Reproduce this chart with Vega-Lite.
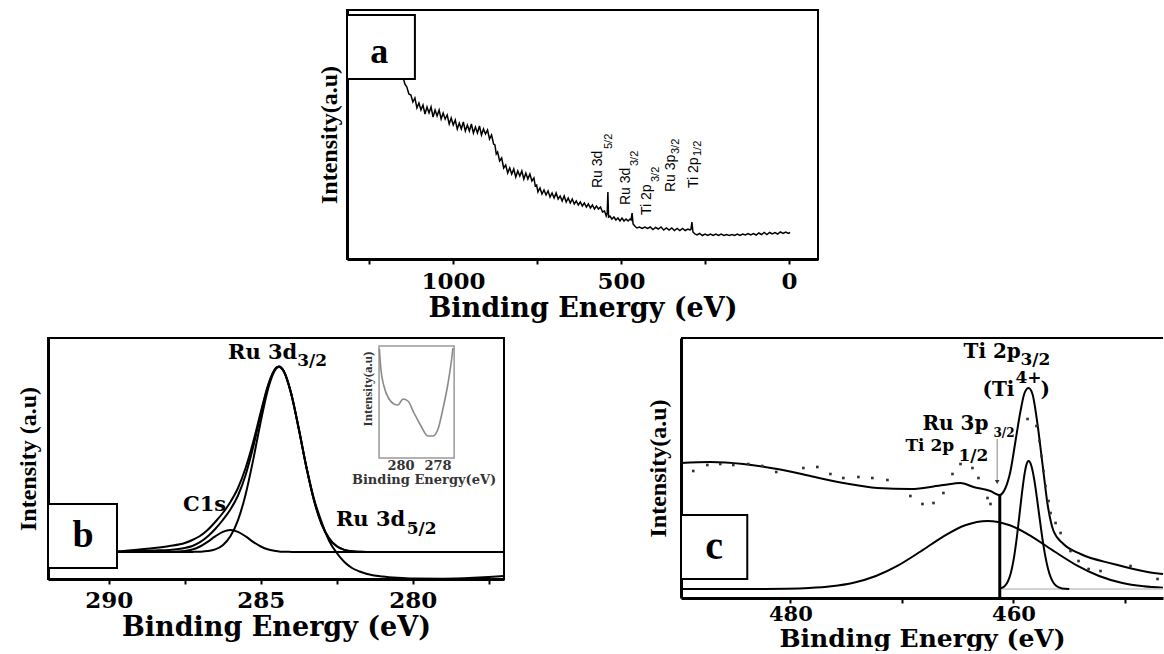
{
"$schema": "https://vega.github.io/schema/vega-lite/v6.json",
"background": "white",
"padding": {"left": 15, "top": 9, "right": 0, "bottom": 0},
"spacing": 15,
"config": {
  "view": {"stroke": "black", "strokeWidth": 2},
  "axis": {"grid": false, "domainColor": "black", "domainWidth": 3, "tickColor": "black", "tickWidth": 2, "tickSize": 5, "format": "d",
           "labelFont": "DejaVu Serif", "labelFontWeight": "bold", "labelColor": "black", "labelFlush": false, "labelOverlap": false,
           "titleFont": "DejaVu Serif", "titleFontWeight": "bold", "titleColor": "black"},
  "axisY": {"ticks": false, "labels": false, "titleFont": "Liberation Serif", "titleFontSize": 24}
},
"vconcat": [
 {"spacing": 0, "hconcat": [
  {"width": 268, "height": 249, "view": {"stroke": null}, "data": {"values": []}, "mark": {"type": "point", "opacity": 0}},
  {"width": 471, "height": 249,
   "layer": [
    {"data": {"values": [
{"e":1149,"v":183},{"e":1143,"v":175},{"e":1137,"v":172},{"e":1131,"v":165},{"e":1125,"v":164},{"e":1119,"v":157},{"e":1113,"v":161},{"e":1107,"v":151},{"e":1101,"v":156},{"e":1095,"v":149},{"e":1089,"v":154},{"e":1083,"v":145},{"e":1077,"v":152},{"e":1071,"v":146},{"e":1065,"v":152},{"e":1059,"v":142},{"e":1053,"v":149},{"e":1047,"v":143},{"e":1041,"v":149},{"e":1035,"v":140},{"e":1029,"v":146},{"e":1023,"v":140},{"e":1017,"v":144},{"e":1011,"v":135},{"e":1005,"v":141},{"e":999,"v":134},{"e":993,"v":139},{"e":987,"v":130},{"e":981,"v":136},{"e":975,"v":130},{"e":969,"v":137},{"e":963,"v":128},{"e":957,"v":134},{"e":951,"v":128},{"e":945,"v":135},{"e":939,"v":126},{"e":933,"v":132},{"e":927,"v":126},{"e":921,"v":133},{"e":915,"v":124},{"e":909,"v":130},{"e":903,"v":125},{"e":897,"v":129},{"e":891,"v":120},{"e":885,"v":124},{"e":879,"v":115},{"e":875,"v":114},{"e":871,"v":105},{"e":867,"v":107},{"e":861,"v":98},{"e":855,"v":101},{"e":849,"v":91},{"e":843,"v":94},{"e":837,"v":86},{"e":831,"v":91},{"e":825,"v":85},{"e":819,"v":90},{"e":813,"v":82},{"e":807,"v":88},{"e":801,"v":83},{"e":795,"v":88},{"e":789,"v":80},{"e":783,"v":86},{"e":777,"v":80},{"e":771,"v":85},{"e":765,"v":78},{"e":759,"v":81},{"e":755,"v":73},{"e":751,"v":74},{"e":747,"v":67},{"e":741,"v":71},{"e":735,"v":65},{"e":729,"v":69},{"e":723,"v":64},{"e":717,"v":68},{"e":711,"v":62},{"e":705,"v":66},{"e":699,"v":61},{"e":693,"v":66},{"e":687,"v":60},{"e":681,"v":63},{"e":675,"v":58},{"e":669,"v":63},{"e":663,"v":57},{"e":657,"v":61},{"e":651,"v":56},{"e":645,"v":60},{"e":639,"v":55},{"e":633,"v":58},{"e":627,"v":54},{"e":621,"v":57},{"e":615,"v":53},{"e":609,"v":56},{"e":603,"v":52},{"e":597,"v":55},{"e":591,"v":51},{"e":585,"v":54},{"e":579,"v":50},{"e":573,"v":53},{"e":567,"v":50},{"e":561,"v":52},{"e":555,"v":47},{"e":549,"v":48},{"e":544,"v":43},{"e":541,"v":46},{"e":539,"v":67},{"e":537,"v":42},{"e":533,"v":43},{"e":527,"v":40},{"e":521,"v":42},{"e":515,"v":39},{"e":509,"v":41},{"e":503,"v":38},{"e":497,"v":41},{"e":491,"v":38},{"e":485,"v":40},{"e":479,"v":38},{"e":473,"v":40},{"e":470,"v":39},{"e":467,"v":46},{"e":464,"v":35},{"e":459,"v":33},{"e":453,"v":31},{"e":445,"v":32},{"e":437,"v":30.5},{"e":429,"v":32},{"e":421,"v":30.5},{"e":413,"v":32},{"e":405,"v":29.5},{"e":397,"v":31.5},{"e":389,"v":30},{"e":381,"v":32},{"e":373,"v":29},{"e":365,"v":31},{"e":357,"v":29},{"e":349,"v":31},{"e":341,"v":28.5},{"e":333,"v":30.5},{"e":325,"v":28.5},{"e":317,"v":30.5},{"e":309,"v":28.5},{"e":301,"v":30},{"e":295,"v":29},{"e":292,"v":29.5},{"e":289,"v":37},{"e":286,"v":27},{"e":280,"v":25},{"e":274,"v":24},{"e":266,"v":25.5},{"e":258,"v":23.5},{"e":250,"v":25},{"e":242,"v":23.5},{"e":234,"v":25},{"e":226,"v":23.5},{"e":218,"v":25},{"e":210,"v":23.5},{"e":202,"v":25},{"e":194,"v":23.5},{"e":186,"v":24.5},{"e":178,"v":23.5},{"e":170,"v":24.5},{"e":162,"v":23.5},{"e":154,"v":25},{"e":146,"v":23.5},{"e":138,"v":25},{"e":130,"v":24},{"e":122,"v":25.5},{"e":114,"v":24},{"e":106,"v":25.5},{"e":98,"v":24},{"e":90,"v":26},{"e":82,"v":24.5},{"e":74,"v":26.5},{"e":66,"v":24.5},{"e":58,"v":26.5},{"e":50,"v":25},{"e":42,"v":26.5},{"e":34,"v":25},{"e":26,"v":27},{"e":18,"v":25.5},{"e":10,"v":27},{"e":2,"v":25.5},{"e":-3,"v":26.5}
    ]},
     "mark": {"type": "line", "color": "black", "strokeWidth": 1.5},
     "encoding": {
      "x": {"field": "e", "type": "quantitative", "scale": {"domain": [-86, 1315], "reverse": true, "nice": false, "zero": false},
            "axis": {"values": [1250, 1000, 750, 500, 250, 0], "labelExpr": "datum.value % 500 === 0 ? datum.label : ''", "title": "Binding Energy (eV)", "labelFontSize": 23, "titleFontSize": 27, "labelPadding": 6, "titlePadding": 2}},
      "y": {"field": "v", "type": "quantitative", "scale": {"domain": [0, 249], "nice": false}, "axis": {"title": "Intensity(a.u)", "titlePadding": 6}}
     }},
    {"data": {"values": [{}]}, "mark": {"type": "rect", "fill": "white", "stroke": "black", "strokeWidth": 2},
     "encoding": {"x": {"datum": 1315}, "x2": {"datum": 1113}, "y": {"datum": 180}, "y2": {"datum": 244}}},
    {"data": {"values": [{"e": 1219, "v": 207, "t": "a"}]},
     "mark": {"type": "text", "font": "Liberation Serif", "fontWeight": "bold", "fontSize": 36, "align": "center", "baseline": "middle", "color": "black"},
     "encoding": {"x": {"field": "e", "type": "quantitative"}, "y": {"field": "v", "type": "quantitative"}, "text": {"field": "t"}}},
    {"data": {"values": [{"e":568,"v":71,"t":"Ru 3d"},{"e":485,"v":54,"t":"Ru 3d"},{"e":423,"v":44,"t":"Ti 2p"},{"e":351,"v":67,"t":"Ru 3p"},{"e":283,"v":71,"t":"Ti 2p"}]},
     "mark": {"type": "text", "font": "Liberation Sans", "fontSize": 14, "angle": 270, "align": "left", "baseline": "middle", "color": "black"},
     "encoding": {"x": {"field": "e", "type": "quantitative"}, "y": {"field": "v", "type": "quantitative"}, "text": {"field": "t"}}},
    {"data": {"values": [{"e":536,"v":110,"t":"5/2"},{"e":458,"v":93,"t":"3/2"},{"e":396,"v":77,"t":"3/2"},{"e":336,"v":105,"t":"3/2"},{"e":271,"v":103,"t":"1/2"}]},
     "mark": {"type": "text", "font": "Liberation Sans", "fontSize": 11, "angle": 270, "align": "left", "baseline": "middle", "color": "black"},
     "encoding": {"x": {"field": "e", "type": "quantitative"}, "y": {"field": "v", "type": "quantitative"}, "text": {"field": "t"}}}
   ]}
 ]},
 {"spacing": 137, "hconcat": [
  {"width": 456, "height": 241,
   "layer": [
    {"data": {"values": [
{"x":292,"A":27,"B":27,"C":27,"D":27},{"x":291,"A":27,"B":27.2,"C":27,"D":27},{"x":290,"A":27.2,"B":27.5,"C":27,"D":27},{"x":289.5,"A":27.5,"B":28,"C":27,"D":27},{"x":289,"A":28,"B":29.5,"C":27,"D":27},{"x":288.5,"A":28.5,"B":31,"C":27,"D":27},{"x":288,"A":29.1,"B":33,"C":27,"D":27.1},{"x":287.5,"A":31,"B":36,"C":27,"D":28},{"x":287.25,"A":33,"B":39,"C":27.1,"D":29.5},{"x":287,"A":36.8,"B":43,"C":27.3,"D":32.5},{"x":286.75,"A":42.5,"B":49,"C":27.9,"D":37.1},{"x":286.5,"A":50,"B":57,"C":29.6,"D":42.6},{"x":286.25,"A":59,"B":66,"C":33.8,"D":47.2},{"x":286,"A":69.5,"B":77,"C":42.7,"D":49},{"x":285.75,"A":83.5,"B":91,"C":58.9,"D":47.2},{"x":285.5,"A":104,"B":111,"C":84.6,"D":42.6},{"x":285.25,"A":132,"B":137,"C":119.1,"D":37.1},{"x":285,"A":165,"B":167,"C":157.8,"D":32.5},{"x":284.75,"A":194,"B":195,"C":191.4,"D":29.5},{"x":284.5,"A":211.2,"B":211,"C":210.2,"D":28},{"x":284.4,"A":212.6,"B":212.6,"C":212,"D":27.6},{"x":284.25,"A":208.3,"B":208,"C":208,"D":27.3},{"x":284,"A":185.5,"B":185,"C":185.5,"D":27.1},{"x":283.75,"A":150.1,"B":150,"C":150.1,"D":27},{"x":283.5,"A":111.7,"B":112,"C":111.7,"D":27},{"x":283.25,"A":78.7,"B":80,"C":78.7,"D":27},{"x":283,"A":54.9,"B":57,"C":54.9,"D":27},{"x":282.75,"A":40.4,"B":38,"C":40.4,"D":27},{"x":282.5,"A":32.7,"B":26,"C":32.7,"D":27},{"x":282.25,"A":29.1,"B":17,"C":29.1,"D":27},{"x":282,"A":27.7,"B":11,"C":27.7,"D":27},{"x":281.75,"A":27.3,"B":7.5,"C":27.3,"D":27},{"x":281.5,"A":27.1,"B":5,"C":27.1,"D":27},{"x":281,"A":27,"B":2.5,"C":27,"D":27},{"x":280.5,"A":27,"B":1.2,"C":27,"D":27},{"x":280,"A":27,"B":0.5,"C":27,"D":27},{"x":279,"A":27,"B":0.3,"C":27,"D":27},{"x":278,"A":27,"B":1.2,"C":27,"D":27},{"x":277.5,"A":27,"B":2,"C":27,"D":27},{"x":277,"A":27,"B":3,"C":27,"D":27}
    ]},
     "transform": [{"fold": ["A", "B", "C", "D"], "as": ["s", "v"]}],
     "mark": {"type": "line", "color": "black", "strokeWidth": 2, "interpolate": "monotone"},
     "encoding": {
      "x": {"field": "x", "type": "quantitative", "scale": {"domain": [277, 292], "reverse": true, "nice": false, "zero": false},
            "axis": {"values": [290, 287.5, 285, 282.5, 280, 277.5], "labelExpr": "datum.value % 5 === 0 ? datum.label : ''", "title": "Binding Energy (eV)", "labelFontSize": 23, "titleFontSize": 27, "labelPadding": 5, "titlePadding": 2}},
      "y": {"field": "v", "type": "quantitative", "scale": {"domain": [0, 241], "nice": false}, "axis": {"title": "Intensity (a.u)", "titlePadding": 8}},
      "detail": {"field": "s"}
     }},
    {"data": {"values": [{}]}, "mark": {"type": "rect", "fill": "white", "stroke": "#999", "strokeWidth": 1.5},
     "encoding": {"x": {"datum": 281.11}, "x2": {"datum": 278.64}, "y": {"datum": 121}, "y2": {"datum": 233}}},
    {"data": {"values": [
{"x":281.1,"v":230},{"x":281.05,"v":210},{"x":280.95,"v":193},{"x":280.78,"v":180},{"x":280.62,"v":175},{"x":280.49,"v":174},{"x":280.32,"v":180},{"x":280.16,"v":178},{"x":279.96,"v":166},{"x":279.73,"v":153},{"x":279.5,"v":143},{"x":279.34,"v":143},{"x":279.17,"v":150},{"x":279.01,"v":170},{"x":278.84,"v":196},{"x":278.71,"v":223},{"x":278.68,"v":231}
    ]},
     "mark": {"type": "line", "color": "#8a8a8a", "strokeWidth": 1.6, "interpolate": "monotone"},
     "encoding": {"x": {"field": "x", "type": "quantitative"}, "y": {"field": "v", "type": "quantitative"}}},
    {"data": {"values": [{"x": 280.39, "v": 109, "t": "280"}, {"x": 279.17, "v": 109, "t": "278"}]},
     "mark": {"type": "text", "font": "DejaVu Serif", "fontWeight": "bold", "fontSize": 13, "align": "center", "baseline": "alphabetic", "color": "#333"},
     "encoding": {"x": {"field": "x", "type": "quantitative"}, "y": {"field": "v", "type": "quantitative"}, "text": {"field": "t"}}},
    {"data": {"values": [{"x": 279.63, "v": 95, "t": "Binding Energy(eV)"}]},
     "mark": {"type": "text", "font": "DejaVu Serif", "fontWeight": "bold", "fontSize": 13, "align": "center", "baseline": "alphabetic", "color": "#333"},
     "encoding": {"x": {"field": "x", "type": "quantitative"}, "y": {"field": "v", "type": "quantitative"}, "text": {"field": "t"}}},
    {"data": {"values": [{"x": 281.47, "v": 190, "t": "Intensity(a.u)"}]},
     "mark": {"type": "text", "font": "Liberation Serif", "fontWeight": "bold", "fontSize": 13, "angle": 270, "align": "center", "baseline": "middle", "color": "#333"},
     "encoding": {"x": {"field": "x", "type": "quantitative"}, "y": {"field": "v", "type": "quantitative"}, "text": {"field": "t"}}},
    {"data": {"values": [{}]}, "mark": {"type": "rect", "fill": "white", "stroke": "black", "strokeWidth": 2},
     "encoding": {"x": {"datum": 292}, "x2": {"datum": 289.73}, "y": {"datum": 11}, "y2": {"datum": 75}}},
    {"data": {"values": [{"x": 290.85, "v": 43, "t": "b"}]},
     "mark": {"type": "text", "font": "Liberation Serif", "fontWeight": "bold", "fontSize": 38, "align": "center", "baseline": "middle", "color": "black"},
     "encoding": {"x": {"field": "x", "type": "quantitative"}, "y": {"field": "v", "type": "quantitative"}, "text": {"field": "t"}}},
    {"data": {"values": [{"x": 286.08, "v": 220, "t": "Ru 3d"}, {"x": 287.56, "v": 68, "t": "C1s"}, {"x": 282.53, "v": 53, "t": "Ru 3d"}]},
     "mark": {"type": "text", "font": "DejaVu Serif", "fontWeight": "bold", "fontSize": 21, "align": "left", "baseline": "alphabetic", "color": "black"},
     "encoding": {"x": {"field": "x", "type": "quantitative"}, "y": {"field": "v", "type": "quantitative"}, "text": {"field": "t"}}},
    {"data": {"values": [{"x": 283.8, "v": 213, "t": "3/2"}, {"x": 280.2, "v": 45, "t": "5/2"}]},
     "mark": {"type": "text", "font": "DejaVu Serif", "fontWeight": "bold", "fontSize": 17, "align": "left", "baseline": "alphabetic", "color": "black"},
     "encoding": {"x": {"field": "x", "type": "quantitative"}, "y": {"field": "v", "type": "quantitative"}, "text": {"field": "t"}}}
   ]},
  {"width": 482, "height": 260, "view": {"stroke": null},
   "layer": [
    {"data": {"values": [
{"x":489.8,"v":9},{"x":482.33,"v":9.1},{"x":480.33,"v":9.3},{"x":478.33,"v":10},{"x":476.33,"v":11.7},{"x":474.33,"v":15.3},{"x":472.33,"v":22},{"x":470.33,"v":32.6},{"x":468.33,"v":46.5},{"x":466.33,"v":61.2},{"x":464.33,"v":72.7},{"x":462.33,"v":77},{"x":460.33,"v":72.7},{"x":458.33,"v":61.2},{"x":456.33,"v":46.5},{"x":454.33,"v":32.6},{"x":452.33,"v":22},{"x":450.33,"v":15.3},{"x":448.33,"v":11.7},{"x":446.6,"v":10.2}
    ]},
     "mark": {"type": "line", "color": "black", "strokeWidth": 2, "interpolate": "monotone"},
     "encoding": {
      "x": {"field": "x", "type": "quantitative", "scale": {"domain": [446.6, 489.8], "reverse": true, "nice": false, "zero": false},
            "axis": {"values": [480, 470, 460, 450], "labelExpr": "datum.value % 20 === 0 ? datum.label : ''", "title": "Binding Energy (eV)", "labelFontSize": 21, "titleFontSize": 25, "labelPadding": 0, "titlePadding": 2}},
      "y": {"field": "v", "type": "quantitative", "scale": {"domain": [0, 260], "nice": false}, "axis": {"title": "Intensity(a.u)", "titlePadding": 11}}
     }},
    {"data": {"values": [{}]}, "mark": {"type": "rule", "color": "black", "strokeWidth": 2},
     "encoding": {"x": {"datum": 489.8}, "x2": {"datum": 446.6}, "y": {"datum": 260}}},
    {"data": {"values": [{}]}, "mark": {"type": "rule", "color": "#c4c4c4", "strokeWidth": 1.5},
     "encoding": {"x": {"datum": 461.23}, "x2": {"datum": 446.6}, "y": {"datum": 9}}},
    {"data": {"values": [
{"x":461.26,"v":9.5},{"x":461,"v":10.4},{"x":460.75,"v":12.4},{"x":460.5,"v":16.7},{"x":460.25,"v":24.6},{"x":460,"v":37.6},{"x":459.75,"v":56.4},{"x":459.5,"v":79.7},{"x":459.25,"v":104.2},{"x":459,"v":124.7},{"x":458.85,"v":132.9},{"x":458.65,"v":137},{"x":458.4,"v":132.3},{"x":458.15,"v":119.1},{"x":457.9,"v":100.1},{"x":457.65,"v":79},{"x":457.4,"v":58.8},{"x":457.15,"v":41.9},{"x":456.9,"v":29.1},{"x":456.65,"v":20.4},{"x":456.4,"v":15},{"x":456.15,"v":11.9},{"x":455.65,"v":9.6},{"x":455,"v":9}
    ]},
     "mark": {"type": "line", "color": "black", "strokeWidth": 2, "interpolate": "monotone"},
     "encoding": {"x": {"field": "x", "type": "quantitative"}, "y": {"field": "v", "type": "quantitative"}}},
    {"data": {"values": [
{"x":489.8,"v":135},{"x":487.17,"v":136},{"x":484.22,"v":134},{"x":481.17,"v":129},{"x":478.21,"v":122},{"x":475.25,"v":115},{"x":472.2,"v":110},{"x":469.24,"v":109},{"x":466.28,"v":113},{"x":464.75,"v":115},{"x":463.59,"v":111},{"x":462.07,"v":107},{"x":461.26,"v":103},{"x":460.72,"v":110},{"x":460.27,"v":127},{"x":459.82,"v":157},{"x":459.37,"v":187},{"x":459.01,"v":205},{"x":458.65,"v":210},{"x":458.3,"v":204},{"x":457.85,"v":174},{"x":457.4,"v":134},{"x":456.95,"v":94},{"x":456.41,"v":67},{"x":455.52,"v":54},{"x":453.99,"v":44},{"x":451.03,"v":34},{"x":447.98,"v":26},{"x":446.6,"v":24}
    ]},
     "mark": {"type": "line", "color": "black", "strokeWidth": 2, "interpolate": "monotone"},
     "encoding": {"x": {"field": "x", "type": "quantitative"}, "y": {"field": "v", "type": "quantitative"}}},
    {"data": {"values": [
{"x":488.7,"v":127},{"x":487.44,"v":133},{"x":486.28,"v":134},{"x":485.11,"v":133},{"x":483.77,"v":134},{"x":482.51,"v":132},{"x":481.26,"v":126},{"x":478.83,"v":130},{"x":477.58,"v":131},{"x":476.41,"v":124},{"x":475.25,"v":120},{"x":473.9,"v":121},{"x":472.65,"v":120},{"x":471.3,"v":118},{"x":469.24,"v":102},{"x":468.16,"v":94},{"x":467.17,"v":95},{"x":466.28,"v":105},{"x":465.47,"v":124},{"x":464.75,"v":134},{"x":463.68,"v":130},{"x":463.14,"v":120},{"x":462.33,"v":100},{"x":462.06,"v":94},{"x":458.74,"v":179},{"x":457.94,"v":172},{"x":457.67,"v":157},{"x":457.49,"v":142},{"x":457.31,"v":127},{"x":457.13,"v":112},{"x":456.86,"v":97},{"x":456.68,"v":85},{"x":456.23,"v":75},{"x":455.78,"v":65},{"x":454.89,"v":47},{"x":454.17,"v":37},{"x":453.27,"v":29},{"x":452.2,"v":27},{"x":449.51,"v":32},{"x":447.09,"v":19}
    ]},
     "mark": {"type": "square", "size": 7, "color": "#333", "opacity": 1},
     "encoding": {"x": {"field": "x", "type": "quantitative"}, "y": {"field": "v", "type": "quantitative"}}},
    {"data": {"values": [{}]}, "mark": {"type": "rule", "color": "black", "strokeWidth": 3},
     "encoding": {"x": {"datum": 461.23}, "y": {"datum": 0}, "y2": {"datum": 104}}},
    {"data": {"values": [{}]}, "mark": {"type": "rule", "color": "#9a9a9a", "strokeWidth": 1.2},
     "encoding": {"x": {"datum": 461.46}, "y": {"datum": 159}, "y2": {"datum": 118}}},
    {"data": {"values": [{}]}, "mark": {"type": "point", "shape": "triangle-down", "size": 22, "filled": true, "color": "#333", "opacity": 1},
     "encoding": {"x": {"datum": 461.46}, "y": {"datum": 116}}},
    {"data": {"values": [{}]}, "mark": {"type": "rect", "fill": "white", "stroke": "black", "strokeWidth": 2},
     "encoding": {"x": {"datum": 489.8}, "x2": {"datum": 483.86}, "y": {"datum": 19}, "y2": {"datum": 83}}},
    {"data": {"values": [{"x": 486.83, "v": 51, "t": "c"}]},
     "mark": {"type": "text", "font": "Liberation Serif", "fontWeight": "bold", "fontSize": 40, "align": "center", "baseline": "middle", "color": "black"},
     "encoding": {"x": {"field": "x", "type": "quantitative"}, "y": {"field": "v", "type": "quantitative"}, "text": {"field": "t"}}},
    {"data": {"values": [{"x": 464.48, "v": 240, "t": "Ti 2p"}, {"x": 462.78, "v": 202, "t": "(Ti"}, {"x": 457.58, "v": 202, "t": ")"}, {"x": 468.16, "v": 168, "t": "Ru 3p"}]},
     "mark": {"type": "text", "font": "DejaVu Serif", "fontWeight": "bold", "fontSize": 20, "align": "left", "baseline": "alphabetic", "color": "black"},
     "encoding": {"x": {"field": "x", "type": "quantitative"}, "y": {"field": "v", "type": "quantitative"}, "text": {"field": "t"}}},
    {"data": {"values": [{"x": 469.69, "v": 147, "t": "Ti 2p"}, {"x": 459.37, "v": 233, "t": "3/2"}, {"x": 459.82, "v": 215, "t": "4+"}, {"x": 464.93, "v": 137, "t": "1/2"}]},
     "mark": {"type": "text", "font": "DejaVu Serif", "fontWeight": "bold", "fontSize": 17, "align": "left", "baseline": "alphabetic", "color": "black"},
     "encoding": {"x": {"field": "x", "type": "quantitative"}, "y": {"field": "v", "type": "quantitative"}, "text": {"field": "t"}}},
    {"data": {"values": [{"x": 461.79, "v": 161, "t": "3/2"}]},
     "mark": {"type": "text", "font": "DejaVu Serif", "fontWeight": "bold", "fontSize": 12, "align": "left", "baseline": "alphabetic", "color": "black"},
     "encoding": {"x": {"field": "x", "type": "quantitative"}, "y": {"field": "v", "type": "quantitative"}, "text": {"field": "t"}}}
   ]}
 ]}
]
}
